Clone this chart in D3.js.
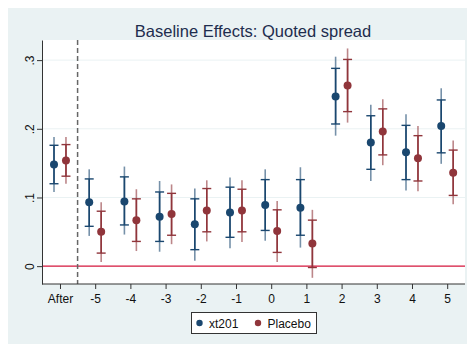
<!DOCTYPE html>
<html>
<head>
<meta charset="utf-8">
<script src="https://cdn.jsdelivr.net/npm/d3@7"></script>
<style>
  body { margin: 0; background: #fff; }
  text { font-family: "Liberation Sans", Arial, sans-serif; }
</style>
</head>
<body>
<div id="chart"></div>
<script>
// categories along the x axis
var categories = ['After', '-5', '-4', '-3', '-2', '-1', '0', '1', '2', '3', '4', '5'];
var yTicks = [0, 0.1, 0.2, 0.3];
var yTickLabels = ['0', '.1', '.2', '.3'];

// xt201: estimate, 90% ci (lo, hi), 95% ci (lo, hi)
var xtEst  = [0.148, 0.093, 0.094, 0.072, 0.061, 0.078, 0.089, 0.085, 0.247, 0.180, 0.166, 0.204];
var xtLo90 = [0.120, 0.058, 0.060, 0.036, 0.024, 0.042, 0.052, 0.045, 0.207, 0.141, 0.126, 0.165];
var xtHi90 = [0.176, 0.127, 0.130, 0.108, 0.098, 0.115, 0.126, 0.126, 0.288, 0.219, 0.205, 0.242];
var xtLo95 = [0.108, 0.044, 0.046, 0.021, 0.008, 0.026, 0.037, 0.027, 0.190, 0.124, 0.110, 0.149];
var xtHi95 = [0.188, 0.141, 0.145, 0.124, 0.113, 0.129, 0.141, 0.144, 0.305, 0.235, 0.221, 0.259];

// Placebo
var plEst  = [0.154, 0.050, 0.067, 0.076, 0.081, 0.081, 0.051, 0.033, 0.263, 0.196, 0.157, 0.136];
var plLo90 = [0.131, 0.019, 0.036, 0.045, 0.050, 0.050, 0.020, -0.002, 0.225, 0.162, 0.124, 0.103];
var plHi90 = [0.177, 0.080, 0.098, 0.106, 0.113, 0.112, 0.082, 0.067, 0.301, 0.229, 0.190, 0.169];
var plLo95 = [0.120, 0.006, 0.022, 0.032, 0.036, 0.035, 0.006, -0.017, 0.209, 0.147, 0.109, 0.090];
var plHi95 = [0.188, 0.093, 0.112, 0.119, 0.125, 0.125, 0.095, 0.082, 0.317, 0.243, 0.204, 0.183];

var seriesNames = ['xt201', 'Placebo'];

var W = 467, H = 344;
var blue = '#1a476f', red = '#90353b', bg = '#eaf2f3';
var plot = {left: 42, right: 465, top: 40, bottom: 284};

var svg = d3.select('#chart').append('svg')
	.attr('width', W)
	.attr('height', H);

svg.append('rect')
	.attr('x', 8).attr('y', 8)
	.attr('width', W - 8).attr('height', H - 8)
	.attr('fill', bg);

svg.append('rect')
	.attr('x', plot.left).attr('y', plot.top)
	.attr('width', plot.right - plot.left).attr('height', plot.bottom - plot.top)
	.attr('fill', '#fff');

var x = d3.scaleLinear()
	.domain([-0.511, 11.506])
	.range([plot.left, plot.right]);

var y = d3.scaleLinear()
	.domain([-0.026, 0.3293])
	.range([plot.bottom, plot.top]);

// grid lines
svg.selectAll('.grid')
	.data(yTicks.slice(1))
	.enter().append('line')
	.attr('class', 'grid')
	.attr('x1', plot.left).attr('x2', plot.right)
	.attr('y1', function(d) { return y(d); })
	.attr('y2', function(d) { return y(d); })
	.attr('stroke', bg)
	.attr('stroke-width', 1);

// zero line
svg.append('line')
	.attr('x1', plot.left).attr('x2', plot.right)
	.attr('y1', y(0)).attr('y2', y(0))
	.attr('stroke', '#d4163c')
	.attr('stroke-width', 1.2);

// dashed separator
svg.append('line')
	.attr('x1', x(0.5)).attr('x2', x(0.5))
	.attr('y1', plot.top).attr('y2', plot.bottom)
	.attr('stroke', '#666')
	.attr('stroke-width', 1.5)
	.attr('stroke-dasharray', '5,3');

// axes
var yAxis = svg.append('g')
	.attr('transform', 'translate(' + plot.left + ',0)')
	.call(d3.axisLeft(y)
		.tickValues(yTicks)
		.tickSize(5)
		.tickSizeOuter(0)
		.tickFormat(function(d, i) { return yTickLabels[i]; }));
yAxis.select('.domain').attr('stroke', '#333');
yAxis.selectAll('.tick line').attr('stroke', '#333');
yAxis.selectAll('.tick text')
	.attr('transform', 'rotate(-90)')
	.attr('x', 0)
	.attr('dy', 0)
	.attr('y', -8)
	.attr('text-anchor', 'middle')
	.attr('font-size', 12)
	.attr('fill', '#111');

var xAxis = svg.append('g')
	.attr('transform', 'translate(0,' + plot.bottom + ')')
	.call(d3.axisBottom(x)
		.tickValues(d3.range(categories.length))
		.tickSize(5)
		.tickSizeOuter(0)
		.tickFormat(function(d) { return categories[d]; }));
xAxis.select('.domain')
	.attr('d', 'M' + plot.left + ',0H' + plot.right)
	.attr('stroke', '#333');
xAxis.selectAll('.tick line').attr('stroke', '#333');
xAxis.selectAll('.tick text')
	.attr('y', 10)
	.attr('font-size', 12)
	.attr('fill', '#111');

// series
var series = [
	{name: seriesNames[0], color: blue, off: -0.17, est: xtEst, lo90: xtLo90, hi90: xtHi90, lo95: xtLo95, hi95: xtHi95},
	{name: seriesNames[1], color: red, off: 0.17, est: plEst, lo90: plLo90, hi90: plHi90, lo95: plLo95, hi95: plHi95}
];

series.forEach(function(s) {
	var g = svg.append('g');
	var rows = s.est.map(function(v, i) {
		return {i: i, est: v, lo90: s.lo90[i], hi90: s.hi90[i], lo95: s.lo95[i], hi95: s.hi95[i]};
	});

	// 95% spikes, lighter
	g.selectAll('.ci95')
		.data(rows)
		.enter().append('line')
		.attr('x1', function(d) { return x(d.i + s.off); })
		.attr('x2', function(d) { return x(d.i + s.off); })
		.attr('y1', function(d) { return y(d.lo95); })
		.attr('y2', function(d) { return y(d.hi95); })
		.attr('stroke', s.color)
		.attr('stroke-opacity', 0.6)
		.attr('stroke-width', 1.6);

	// 90% spikes
	g.selectAll('.ci90')
		.data(rows)
		.enter().append('line')
		.attr('x1', function(d) { return x(d.i + s.off); })
		.attr('x2', function(d) { return x(d.i + s.off); })
		.attr('y1', function(d) { return y(d.lo90); })
		.attr('y2', function(d) { return y(d.hi90); })
		.attr('stroke', s.color)
		.attr('stroke-width', 1.6);

	// caps
	['lo90', 'hi90'].forEach(function(k) {
		g.selectAll('.cap-' + k)
			.data(rows)
			.enter().append('line')
			.attr('x1', function(d) { return x(d.i + s.off) - 4.5; })
			.attr('x2', function(d) { return x(d.i + s.off) + 4.5; })
			.attr('y1', function(d) { return y(d[k]); })
			.attr('y2', function(d) { return y(d[k]); })
			.attr('stroke', s.color)
			.attr('stroke-width', 1.4);
	});

	g.selectAll('.pt')
		.data(rows)
		.enter().append('circle')
		.attr('cx', function(d) { return x(d.i + s.off); })
		.attr('cy', function(d) { return y(d.est); })
		.attr('r', 4)
		.attr('fill', s.color);
});

// title
svg.append('text')
	.attr('x', 253).attr('y', 37)
	.attr('text-anchor', 'middle')
	.attr('font-size', 16.5)
	.attr('fill', '#1e2d4e')
	.text('Baseline Effects: Quoted spread');

// legend
var legend = svg.append('g');
legend.append('rect')
	.attr('x', 191.5).attr('y', 312.5)
	.attr('width', 125).attr('height', 21)
	.attr('fill', '#fff')
	.attr('stroke', '#333')
	.attr('stroke-width', 1);

var legX = [199.5, 258];
series.forEach(function(s, i) {
	legend.append('circle')
		.attr('cx', legX[i]).attr('cy', 323)
		.attr('r', 3.2)
		.attr('fill', s.color);
	legend.append('text')
		.attr('x', legX[i] + 9.5).attr('y', 327.5)
		.attr('font-size', 12)
		.attr('fill', '#111')
		.text(s.name);
});
</script>
</body>
</html>
